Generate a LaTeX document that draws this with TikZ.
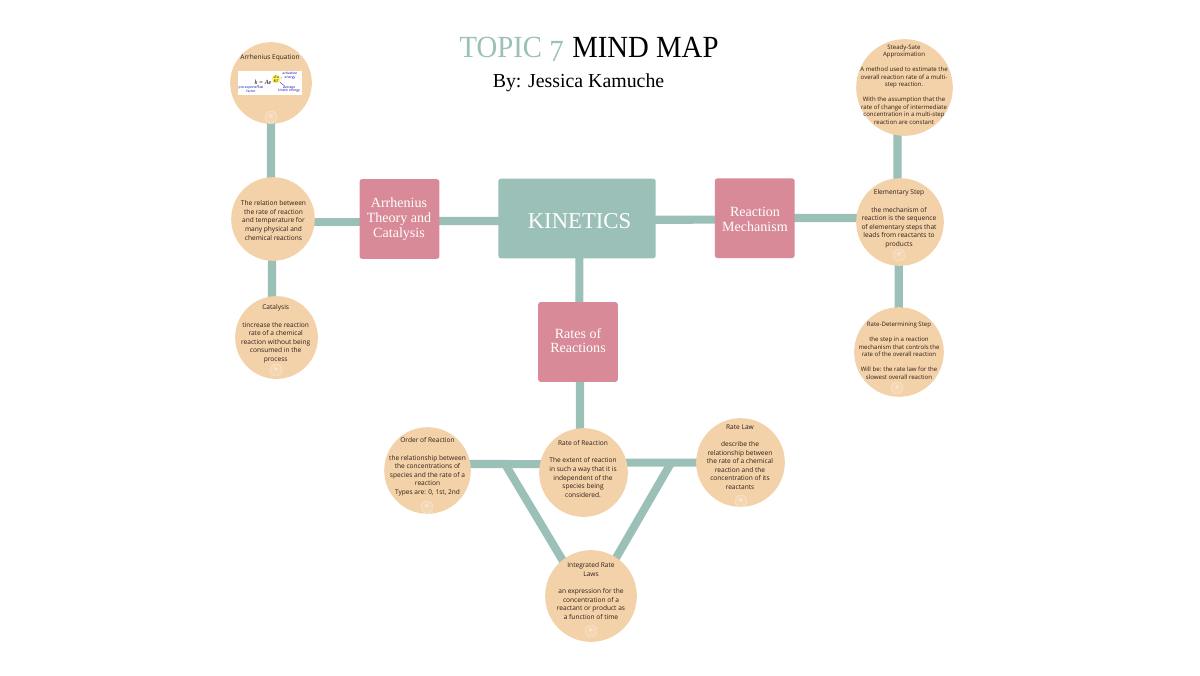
\documentclass[tikz,border=0pt]{standalone}
\usepackage{fontspec}
\setmainfont{Liberation Serif}
\newfontfamily\titlefont[FakeStretch=0.935]{Liberation Serif}
\newfontfamily\bubblefont{Open Sans}
\usetikzlibrary{backgrounds}
\definecolor{tealc}{HTML}{9BC0B8}
\definecolor{pinkc}{HTML}{D88A98}
\definecolor{peachc}{HTML}{F3D1A9}
\definecolor{inkc}{HTML}{2E2018}
\tikzset{
  link/.style={draw=tealc,line width=4.6pt},
  bubble/.style={circle,fill=peachc,inner sep=0pt},
  bubbletext/.style={font=\bubblefont\fontsize{3.75}{4.9}\selectfont,text=inkc,align=center,inner sep=0pt},
  smalltext/.style={font=\bubblefont\fontsize{3.45}{4.3}\selectfont,text=inkc,align=center,inner sep=0pt},
  tinylabel/.style={inner sep=0pt,font=\bubblefont\fontsize{1.9}{2.2}\selectfont,text=blue!70!black,align=center},
  topicbox/.style={rectangle,rounded corners=1.5pt,fill=pinkc,minimum width=45.4pt,minimum height=45.4pt,inner sep=0pt},
  topictext/.style={text=white,inner sep=0pt,align=center,font=\fontsize{8}{8.4}\selectfont},
  plusring/.style={circle,draw=white,draw opacity=.4,fill=white,fill opacity=.12,text opacity=.75,text=white,minimum size=6.8pt,inner sep=0pt,line width=.3pt,font=\bubblefont\fontsize{5}{5}\selectfont},
}
\begin{document}
\begin{tikzpicture}[x=0.02cm,y=-0.02cm]
\useasboundingbox (0,0) rectangle (1200,676);
% title
\node[anchor=base east,inner sep=0pt,text=tealc,font=\titlefont\fontsize{17.5}{20}\selectfont] (topic) at (564,57) {TOPIC \raisebox{-2.4pt}{7}};
\node[anchor=base west,inner sep=0pt,text=black,font=\titlefont\fontsize{17.5}{20}\selectfont] (mindmap) at (572,57) {MIND MAP};
\node[anchor=base,inner sep=0pt,text=black,font=\fontsize{11.3}{13}\selectfont] (author) at (578.5,87) {By: Jessica Kamuche};

% boxes
\node[rectangle,rounded corners=1.5pt,fill=tealc,minimum width=89.6pt,minimum height=45.4pt,inner sep=0pt] (kinetics) at (577,218.5) {};
\node[text=white,inner sep=0pt,font=\fontsize{12.9}{15}\selectfont] (kineticstext) at (579.5,221.5) {KINETICS};
\node[topicbox] (arrbox) at (399.5,219) {};
\node[topictext] (arrtext) at (399,219) {Arrhenius\\Theory and\\Catalysis};
\node[topicbox] (mechbox) at (754.7,218.2) {};
\node[topictext] (mechtext) at (755,219.5) {Reaction\\Mechanism};
\node[topicbox] (ratesbox) at (578,342) {};
\node[topictext] (ratestext) at (578,340.5) {Rates of\\Reactions};

% bubbles
\node[bubble,minimum size=46.5pt] (arreq) at (271,83) {};
\node[bubble,minimum size=47.6pt] (relation) at (273,219) {};
\node[bubble,minimum size=47.1pt] (catalysis) at (276.5,337.5) {};
\node[bubble,minimum size=55pt] (steady) at (904.5,87.5) {};
\node[bubble,minimum size=49.9pt] (elementary) at (900,222) {};
\node[bubble,minimum size=51pt] (ratedet) at (899,352) {};
\node[bubble,minimum size=49.3pt] (order) at (427.5,470.5) {};
\node[bubble,minimum size=50.5pt] (ratereact) at (583.5,472.5) {};
\node[bubble,minimum size=50.5pt] (ratelaw) at (740.5,462.5) {};
\node[bubble,minimum size=52.2pt] (integrated) at (591,596) {};

% junctions on the bottom bar
\coordinate (leftjoin) at (505,464);
\coordinate (rightjoin) at (671,463);

\begin{pgfonlayer}{background}
\draw[link] (arreq.center) -- ([xshift=-1.13pt]relation.center);
\draw[link] ([xshift=-.57pt]relation.center) -- ([xshift=-2.55pt]catalysis.center);
\draw[link] ([yshift=-1.7pt]relation.center) -- ([yshift=-1.7pt]arrbox.center);
\draw[link] ([yshift=-1.13pt]arrbox.center) -- ([yshift=-1.4pt]kinetics.center);
\draw[link] ([yshift=-.7pt]kinetics.center) -- ([yshift=-.85pt]mechbox.center);
\draw[link] ([yshift=.1pt]mechbox.center) -- ([yshift=2.27pt]elementary.center);
\draw[link] ([xshift=-4pt]steady.center) -- ([xshift=-1.4pt]elementary.center);
\draw[link] ([xshift=-.74pt]elementary.center) -- ([xshift=-.17pt]ratedet.center);
\draw[link] ([xshift=1.3pt]kinetics.center) -- ([xshift=.74pt]ratesbox.center);
\draw[link] ([xshift=1.13pt]ratesbox.center) -- ([xshift=-2pt]ratereact.center);
\draw[link] ([yshift=3.7pt]order.center) -- ([yshift=4.8pt]ratereact.center);
\draw[link] ([yshift=5.55pt]ratereact.center) -- (ratelaw.center);
\draw[link] (leftjoin) -- ([xshift=-4pt]integrated.center);
\draw[link] (rightjoin) -- ([xshift=1.7pt]integrated.center);
\end{pgfonlayer}

% bubble texts
\node[bubbletext] (arreqtext) at (270,58) {Arrhenius Equation};
\node[bubbletext] (relationtext) at (273.5,220.5) {The relation between\\the rate of reaction\\and temperature for\\many physical and\\chemical reactions};
\node[bubbletext] (catalysistext) at (275.7,334) {Catalysis\\[4.9pt]tincrease the reaction\\rate of a chemical\\reaction without being\\consumed in the\\process};
\node[smalltext] (steadytext) at (904,84.5) {Steady-Sate\\Approximation\\[4.3pt]A method used to estimate the\\overall reaction rate of a multi-\\step reaction.\\[4.3pt]With the assumption that the\\rate of change of intermediate\\concentration in a multi-step\\reaction are constant};
\node[bubbletext] (elementarytext) at (899,219) {Elementary Step\\[4.9pt]the mechanism of\\reaction is the sequence\\of elementary steps that\\leads from reactants to\\products};
\node[smalltext] (ratedettext) at (899,350.8) {Rate-Determining Step\\[4.3pt]the step in a reaction\\mechanism that controls the\\rate of the overall reaction\\[4.3pt]Will be: the rate law for the\\slowest overall reaction};
\node[bubbletext] (ordertext) at (427.5,467) {Order of Reaction\\[4.9pt]the relationship between\\the concentrations of\\species and the rate of a\\reaction\\Types are: 0, 1st, 2nd};
\node[bubbletext] (ratereacttext) at (583,469) {Rate of Reaction\\[4.9pt]The extent of reaction\\in such a way that it is\\independent of the\\species being\\considered.};
\node[bubbletext] (ratelawtext) at (740,457) {Rate Law\\[4.9pt]describe the\\relationship between\\the rate of a chemical\\reaction and the\\concentration of its\\reactants};
\node[bubbletext] (integratedtext) at (591,591) {Integrated Rate\\Laws\\[4.9pt]an expression for the\\concentration of a\\reactant or product as\\a function of time};

% picture inside the first bubble
\node[rectangle,fill=white,minimum width=36.3pt,minimum height=13.6pt,inner sep=0pt] (eqpanel) at (270,83) {};
\node[circle,fill=yellow!60,minimum size=5pt,inner sep=0pt] (eqspot) at (276,79) {};
\node[inner sep=0pt,font=\fontsize{3.6}{4}\selectfont\itshape,text=black] (eqform) at (263,82.5) {k = Ae};
\node[inner sep=0pt,font=\fontsize{2.2}{2.4}\selectfont\itshape,text=black,align=center] (eqexp) at (276,79) {-Ea\\RT};
\node[tinylabel] (eqact) at (290,76) {activation\\energy};
\node[tinylabel] (eqkin) at (289,89.5) {average\\kinetic energy};
\node[tinylabel] (eqpre) at (251,89.5) {pre-exponential\\factor};
\draw[blue!70!black,line width=.15pt] (eqact) -- (eqspot);
\draw[blue!70!black,line width=.15pt] (eqkin) -- (eqspot);
\draw[blue!70!black,line width=.15pt] (eqpre) -- (eqform);

% plus marks
\node[plusring] (plusa) at (271,117) {+};
\node[plusring] (plusb) at (276,370) {+};
\node[plusring] (plusc) at (899,255) {+};
\node[plusring] (plusd) at (897,388) {+};
\node[plusring] (pluse) at (427,507) {+};
\node[plusring] (plusf) at (741,501) {+};
\node[plusring] (plusg) at (591,631) {+};
\end{tikzpicture}
\end{document}
